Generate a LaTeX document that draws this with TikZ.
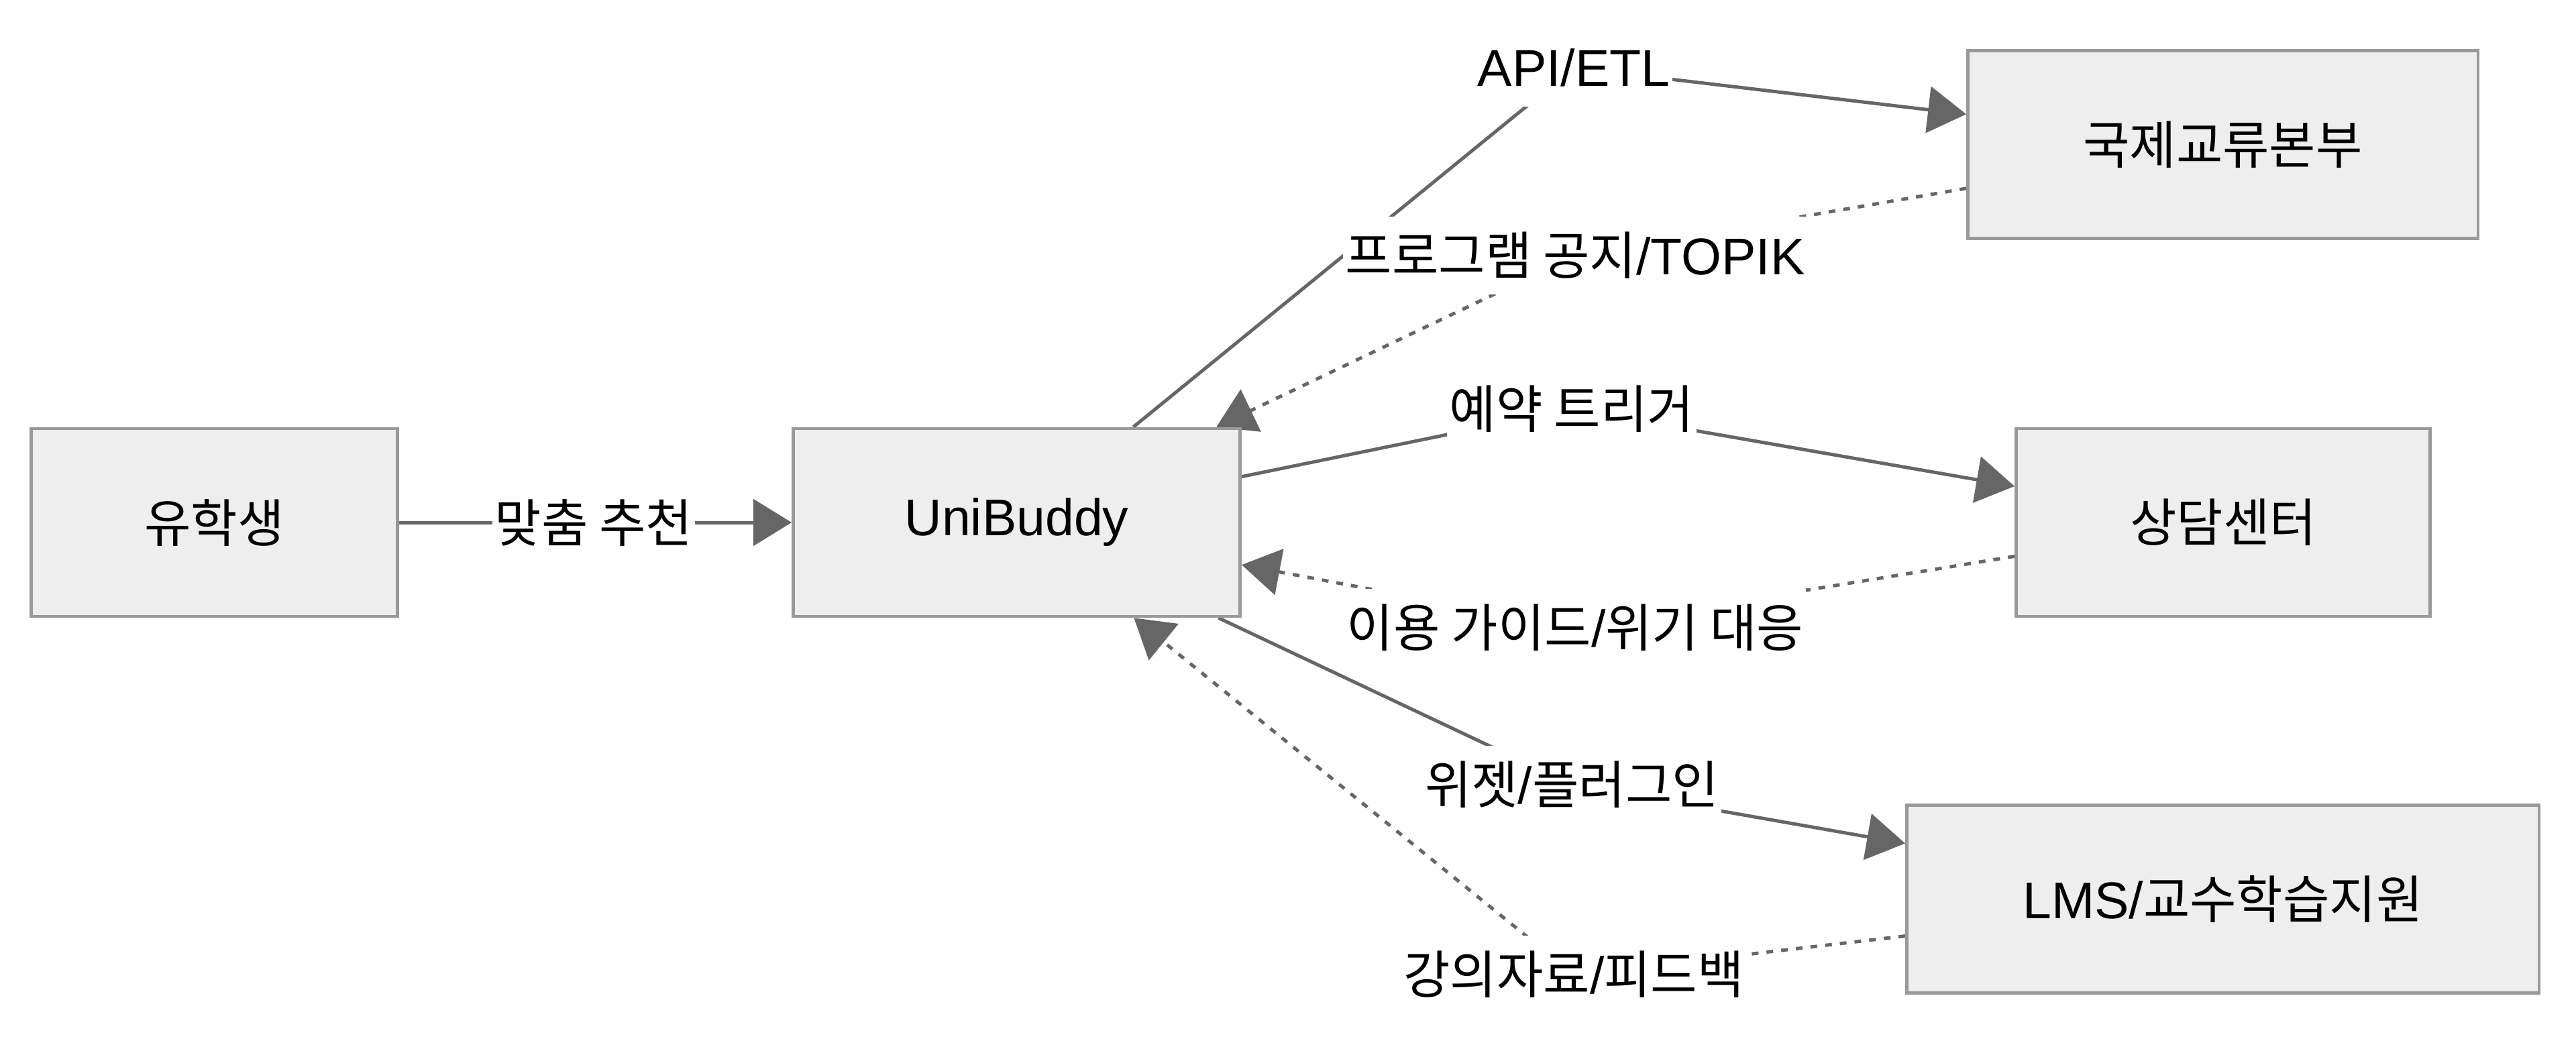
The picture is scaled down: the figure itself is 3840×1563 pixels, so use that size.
\documentclass[tikz,border=0pt]{standalone}
\usepackage{fontspec}
\setmainfont{Liberation Sans}
\newfontfamily\kr[FakeStretch=0.98]{Noto Sans CJK KR}
\usetikzlibrary{arrows.meta,backgrounds}

\definecolor{boxfill}{HTML}{EEEEEE}
\definecolor{boxline}{HTML}{999999}
\definecolor{wire}{HTML}{666666}

\tikzset{
  block/.style={draw=boxline,fill=boxfill,line width=0.045cm,minimum height=2.8cm,inner sep=0pt},
  lbl/.style={fill=white,inner xsep=0.04cm,inner ysep=0pt,minimum height=1.16cm},
  flow/.style={draw,color=wire,line width=0.05cm},
  reply/.style={flow,dash pattern=on 0.1cm off 0.12cm},
  ahead/.style={-{Triangle[length=0.57cm,width=0.69cm]}}
}

\begin{document}
\begin{tikzpicture}[x=0.01cm,y=-0.01cm,font=\fontsize{21.9}{26}\selectfont]
  \useasboundingbox (0,0) rectangle (3840,1563);
  \node[block,minimum width=5.46cm] (stu) at (319.5,779) {\kr 유학생};
  \node[block,minimum width=6.66cm] (uni) at (1515.5,779) {UniBuddy};
  \node[block,minimum width=7.60cm] (intl) at (3313.5,215.5) {\kr 국제교류본부};
  \node[block,minimum width=6.17cm] (coun) at (3314,779) {\kr 상담센터};
  \node[block,minimum width=9.42cm] (lms) at (3313.5,1340.5) {LMS/{\kr 교수학습지원}};

  \node[lbl] (recL) at (885,779) {\kr 맞춤 추천};
  \node[lbl] (apiL) at (2346,101) {API/ETL};
  \node[lbl] (noticeL) at (2348,381) {{\kr 프로그램 공지}/TOPIK};
  \node[lbl] (bookL) at (2343,610) {\kr 예약 트리거};
  \node[lbl] (guideL) at (2348,936) {{\kr 이용 가이드}/{\kr 위기 대응}};
  \node[lbl] (widgetL) at (2343,1170) {{\kr 위젯}/{\kr 플러그인}};
  \node[lbl] (lectL) at (2346,1453) {{\kr 강의자료}/{\kr 피드백}};

  \begin{scope}[on background layer]
  \path[flow]
    (stu) edge (recL.center)
    (recL.center) edge[ahead] (uni)
    (uni) edge (apiL.center)
    (apiL.center) edge[ahead] (intl)
    (uni) edge (bookL.center)
    (bookL.center) edge[ahead] (coun)
    (uni) edge (widgetL.center)
    (widgetL.center) edge[ahead] (lms);
  \path[reply]
    (intl) edge (noticeL.center)
    (noticeL.center) edge[ahead] (uni)
    (coun) edge (guideL.center)
    (guideL.center) edge[ahead] (uni)
    (lms) edge (lectL.center)
    (lectL.center) edge[ahead] (uni);
  \end{scope}
\end{tikzpicture}
\end{document}
